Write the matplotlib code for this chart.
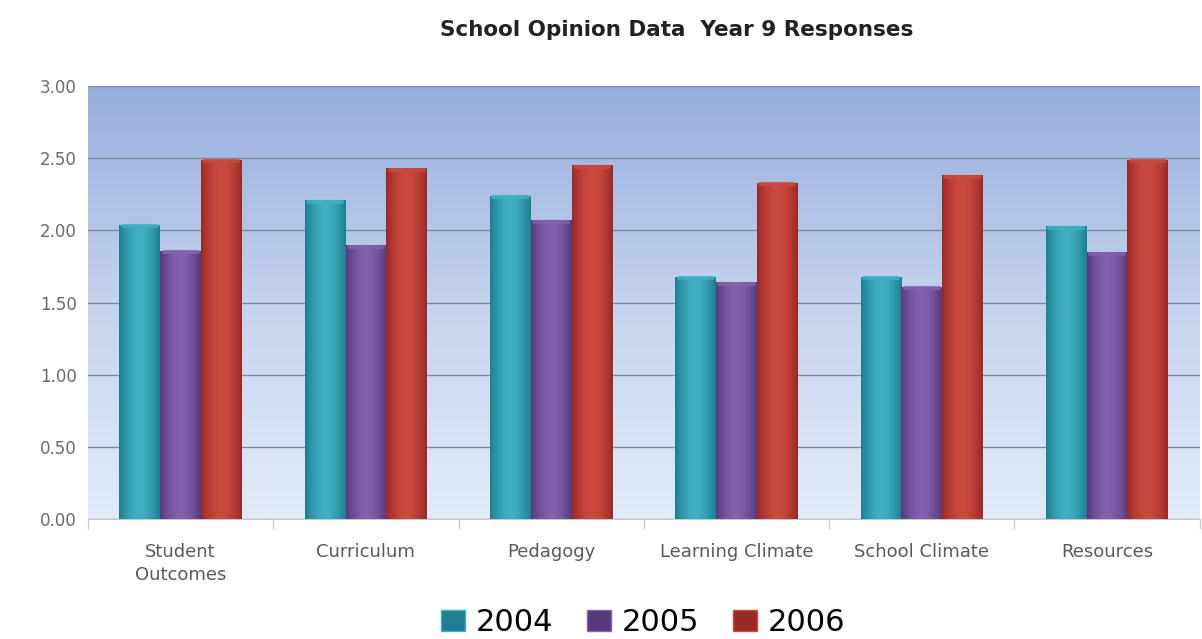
import matplotlib
matplotlib.use("Agg")
import matplotlib.pyplot as plt
import matplotlib.patches as mpatches
from matplotlib.colors import LinearSegmentedColormap
import numpy as np

# ── Data ─────────────────────────────────────────────────────────
categories = ["Student\nOutcomes", "Curriculum", "Pedagogy",
              "Learning Climate", "School Climate", "Resources"]
years = ["2004", "2005", "2006"]
vals_2004 = [2.04, 2.21, 2.24, 1.68, 1.68, 2.03]
vals_2005 = [1.86, 1.90, 2.07, 1.64, 1.61, 1.85]
vals_2006 = [2.49, 2.43, 2.45, 2.33, 2.38, 2.49]
yticks = [0.0, 0.5, 1.0, 1.5, 2.0, 2.5, 3.0]

# base / highlight colours per series
series_colours = [("#1f7f91", "#3fb0c2"),
                  ("#573a7e", "#8462ad"),
                  ("#9a2a26", "#cc4a40")]

plt.rcParams["font.family"] = ["DejaVu Sans"]

fig = plt.figure(figsize=(12.02, 6.39), dpi=100)
fig.patch.set_facecolor("white")
ax = fig.add_axes([0.0732, 0.1878, 0.9248, 0.6776])

# ── Plot-area gradient background ────────────────────────────────
bg = LinearSegmentedColormap.from_list("bg", ["#e3ebf8", "#c4d3ee", "#96aedc"])
ax.imshow(np.linspace(0, 1, 256).reshape(-1, 1)[::-1], cmap=bg, aspect="auto",
          extent=[0, 1, 0, 1], transform=ax.transAxes, zorder=0)

# ── Bars (cylinder-like horizontal shading) ──────────────────────
x = np.arange(len(categories))
width = 0.22
all_vals = [vals_2004, vals_2005, vals_2006]
shade = np.abs(np.linspace(-1, 1, 64))
shade = (1 - shade ** 1.6).reshape(1, -1)

for i, (vals, (dark, light)) in enumerate(zip(all_vals, series_colours)):
    bars = ax.bar(x + (i - 1) * width, vals, width, color=dark,
                  edgecolor="none", zorder=3)
    cmap = LinearSegmentedColormap.from_list(f"s{i}", [dark, light])
    for b in bars:
        bx, by = b.get_x(), b.get_y()
        bw, bh = b.get_width(), b.get_height()
        im = ax.imshow(shade, cmap=cmap, aspect="auto",
                       extent=[bx, bx + bw, by, by + bh], zorder=4)
        im.set_clip_path(b)
        # lighter cap on top of each bar
        ax.plot([bx + bw * 0.08, bx + bw * 0.92], [by + bh - 0.012] * 2,
                color=light, lw=3, alpha=0.8, zorder=5, solid_capstyle="round")

# ── Axes styling ─────────────────────────────────────────────────
ax.set_xlim(-0.5, len(categories) - 0.5)
ax.set_ylim(0, 3.0)
ax.set_yticks(yticks)
ax.set_yticklabels([f"{v:.2f}" for v in yticks], fontsize=12, color="#6a6a6a")
ax.yaxis.grid(True, color="#7d8b9c", lw=1.0, zorder=1)
ax.set_axisbelow(True)
ax.tick_params(axis="y", length=0, pad=8)

ax.set_xticks(x)
ax.set_xticklabels(categories, fontsize=13, color="#5a5a5a", linespacing=1.4)
ax.tick_params(axis="x", length=0, pad=17)
ax.set_xticks(np.arange(-0.5, len(categories) + 0.5, 1.0), minor=True)
ax.tick_params(axis="x", which="minor", length=7, color="#cccccc", width=1)

for side in ["top", "right", "left"]:
    ax.spines[side].set_visible(False)
ax.spines["bottom"].set_color("#c8c8c8")

ax.set_title("School Opinion Data  Year 9 Responses", fontsize=15.5,
             fontweight="bold", color="#222222", x=0.53, pad=36)

# ── Legend ───────────────────────────────────────────────────────
handles = [mpatches.Patch(facecolor=c[0], edgecolor=c[1], label=y)
           for y, c in zip(years, series_colours)]
fig.legend(handles=handles, loc="lower center", ncol=3, frameon=False,
           fontsize=22, bbox_to_anchor=(0.535, -0.04), handlelength=0.8,
           handleheight=0.7, handletextpad=0.35, columnspacing=1.1)

fig.savefig("out.png", dpi=100, facecolor=fig.get_facecolor())
